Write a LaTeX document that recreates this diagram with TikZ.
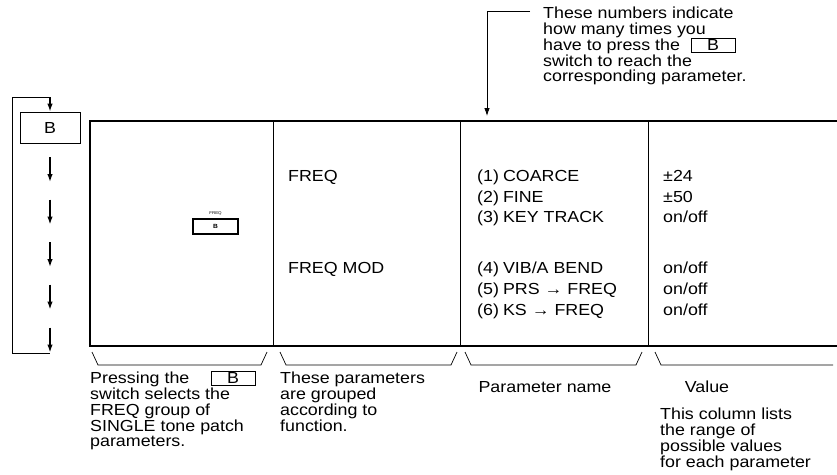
\documentclass[tikz,border=0pt]{standalone}
\usepackage{fontspec}
\setmainfont{Liberation Sans}[FakeStretch=1.115]
\usetikzlibrary{arrows.meta,positioning}

\newcommand\capfont{\fontsize{16}{15.75}\selectfont}

\begin{document}
\begin{tikzpicture}[x=1pt, y=-1pt,
  txt/.style={font=\capfont, inner sep=0pt, align=left},
  keybox/.style={
    rectangle, draw, line width=0.8pt, inner sep=0pt,
    minimum width=44pt, minimum height=14pt, font=\capfont},
  arr/.style={-{Latex[length=8pt,width=5.5pt]}, line width=1.4pt},
  thinarr/.style={-{Latex[length=8pt,width=5.5pt]}, line width=0.8pt},
  rule/.style={line width=0.8pt},
  frame/.style={line width=2pt},
  brace/.style={line width=0.7pt},
]
\useasboundingbox (0,0) rectangle (837,474);

%% ---- Side column: one press per step ----
\node[keybox, minimum width=60pt, minimum height=31pt] (sideB) at (50,127.5) {B};
\coordinate (sidetop) at (12,97);
\coordinate (sidebot) at (12,353);
\draw[rule] (sideB.north |- sidetop) -- (sidetop) -- (sidebot) -- (sideB.south |- sidebot);
\draw[arr] (sideB.north |- sidetop) -- (sideB.north);
\foreach \y in {157,199.5,242,284.5,327.5}
  \draw[arr] (50,\y) -- (50,\y+25);

%% ---- Table frame ----
\draw[frame] (837,121) -- (90,121) -- (90,346) -- (837,346);
\foreach \x in {273,460,648}
  \draw[rule] (\x,121) -- (\x,346);

%% ---- Column 1: panel switch ----
\node[keybox, line width=1.5pt, minimum width=45pt, minimum height=15pt,
      font=\fontsize{6}{6}\selectfont\bfseries] (panelB) at (215.5,226.5) {B};
\node[font=\fontsize{4}{4}\selectfont, inner sep=0pt, above=3pt of panelB] (panellbl) {FREQ};

%% ---- Column 2: groups ----
\node[txt, anchor=base west] (grpfreq) at (288,181) {FREQ};
\node[txt, anchor=base west] (grpmod)  at (288,273) {FREQ MOD};

%% ---- Columns 3 and 4: parameters and values ----
\node[txt, anchor=base west] (par1) at (477,181) {(1)\hspace{4pt}COARCE};
\node[txt, anchor=base west] (par2) at (477,202) {(2)\hspace{4pt}FINE};
\node[txt, anchor=base west] (par3) at (477,222) {(3)\hspace{4pt}KEY TRACK};
\node[txt, anchor=base west] (par4) at (477,273) {(4)\hspace{4pt}VIB/A BEND};
\node[txt, anchor=base west] (par5) at (477,294) {(5)\hspace{4pt}PRS → FREQ};
\node[txt, anchor=base west] (par6) at (477,315) {(6)\hspace{4pt}KS → FREQ};

\node[txt, anchor=base west] (val1) at (663,181) {±24};
\node[txt, anchor=base west] (val2) at (663,202) {±50};
\node[txt, anchor=base west] (val3) at (663,222) {on/off};
\node[txt, anchor=base west] (val4) at (663,273) {on/off};
\node[txt, anchor=base west] (val5) at (663,294) {on/off};
\node[txt, anchor=base west] (val6) at (663,315) {on/off};

%% ---- Top note with arrow into parameter column ----
\node[txt, anchor=north west] (numnote) at (543,7)
  {These numbers indicate\\how many times you\\have to press the\\switch to reach the\\corresponding parameter.};
\node[keybox] (noteB) at (713,45) {B};
\coordinate (notestart) at (530,11);
\coordinate (notetip)   at (487,116);
\draw[thinarr] (notestart) -- (notestart -| notetip) -- (notetip);

%% ---- Brackets under the columns ----
\foreach \a/\b in {92/267, 280/457, 465/642}
  \draw[brace] (\a,352) -- (\a+6,365) -- (\b-6,365) -- (\b,352);
\draw[brace] (655,352) -- (661,365) -- (833,365);

%% ---- Captions ----
\node[txt, anchor=north west] (presscap) at (90,372)
  {Pressing the\\switch selects the\\FREQ group of\\SINGLE tone patch\\parameters.};
\node[keybox] (capB) at (233,378) {B};
\node[txt, anchor=north west] (groupcap) at (280,372)
  {These parameters\\are grouped\\according to\\function.};
\node[txt, anchor=base] (namecap) at (545,392) {Parameter name};
\node[txt, anchor=base] (valcap)  at (707,392) {Value};
\node[txt, anchor=north west] (valnote) at (660,408)
  {This column lists\\the range of\\possible values\\for each parameter};

\end{tikzpicture}
\end{document}
